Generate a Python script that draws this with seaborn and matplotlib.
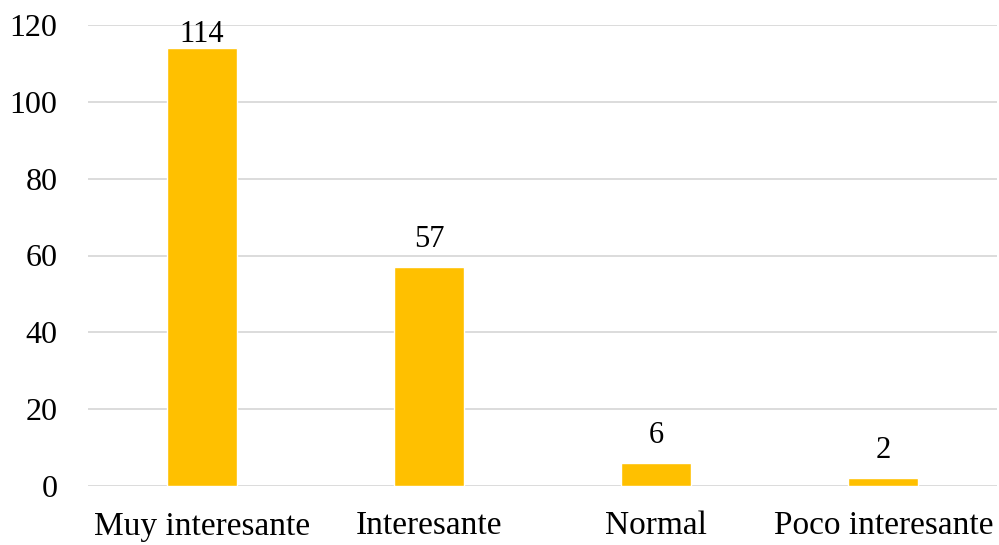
import matplotlib
matplotlib.use("Agg")
import matplotlib.pyplot as plt
import seaborn as sns
import pandas as pd

categories = ["Muy interesante", "Interesante", "Normal", "Poco interesante"]
values = [114, 57, 6, 2]
yticks = [0, 20, 40, 60, 80, 100, 120]

sns.set_theme(style="white")
plt.rcParams['font.family'] = ['Liberation Serif', 'DejaVu Serif']

W, H = 999, 545
fig = plt.figure(figsize=(W / 100, H / 100), dpi=100)
ax_top, ax_bot = 25, 486
ax = fig.add_axes([88 / W, 1 - ax_bot / H, (997 - 88) / W, (ax_bot - ax_top) / H])

df = pd.DataFrame({"cat": categories, "val": values})
sns.barplot(data=df, x="cat", y="val", color="#FFC000", saturation=1,
            width=70 / 227, ax=ax, zorder=3)

ymax = 120
ax.set_xlim(-0.5, 3.5)
ax.set_ylim(0, ymax)
ax.set_yticks(yticks)
ax.set_yticklabels([str(t) for t in yticks])
ax.grid(axis="y", color="#D9D9D9", linewidth=1.3, zorder=0)
ax.set_axisbelow(True)
for s in ["top", "right", "left", "bottom"]:
    ax.spines[s].set_visible(False)
ax.set_xlabel("")
ax.set_ylabel("")
ax.tick_params(axis="both", length=0, colors="black")
ax.tick_params(axis="y", pad=22, labelsize=23)
ax.tick_params(axis="x", pad=18, labelsize=24)

px_per_unit = (ax_bot - ax_top) / ymax
gap = 20 / px_per_unit          # label baseline 20px above bar
limit = ymax - 17 / px_per_unit  # keep label inside plot area
for i, v in enumerate(values):
    y = min(v + gap, limit)
    ax.text(i, y, str(v), ha="center", va="baseline", fontsize=22,
            color="black", zorder=4)

fig.savefig("out.png", dpi=100)
